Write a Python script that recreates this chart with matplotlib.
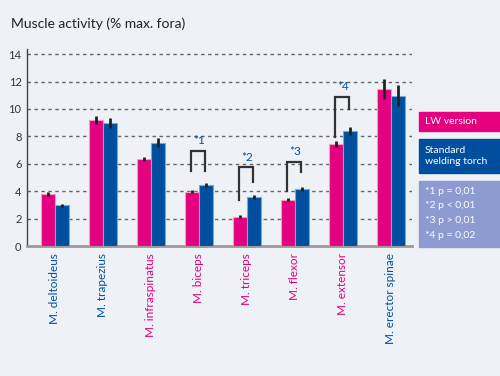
import matplotlib
matplotlib.use("Agg")
import matplotlib.pyplot as plt
import numpy as np

plt.rcParams.update({"font.family": ["Lato", "DejaVu Sans"]})

PINK = "#e4007f"
BLUE = "#004f9e"
LAVENDER = "#8e9bd0"
BG = "#eef2f6"

muscles = ["M. deltoideus", "M. trapezius", "M. infraspinatus", "M. biceps",
           "M. triceps", "M. flexor", "M. extensor", "M. erector spinae"]
label_colors = [BLUE, BLUE, PINK, PINK, PINK, PINK, PINK, BLUE]
lw_vals = [3.8, 9.2, 6.35, 3.96, 2.15, 3.37, 7.45, 11.45]
lw_err = [0.12, 0.28, 0.17, 0.1, 0.1, 0.1, 0.22, 0.7]
std_vals = [2.97, 8.97, 7.55, 4.45, 3.55, 4.16, 8.37, 10.96]
std_err = [0.12, 0.38, 0.33, 0.13, 0.15, 0.15, 0.3, 0.75]

# significance brackets
sig_idx = [3, 4, 5, 6]
sig_top = [6.93, 5.74, 6.15, 10.89]
sig_left_bottom = [5.47, 3.36, 4.01, 7.97]
sig_right_bottom = [5.47, 4.67, 5.42, 9.97]
sig_labels = ["*1", "*2", "*3", "*4"]
p_notes = ["*1 p = 0,01", "*2 p < 0,01", "*3 p > 0,01", "*4 p = 0,02"]

fig = plt.figure(figsize=(5, 3.76), dpi=100, facecolor=BG)
ax = fig.add_axes([0.054, 0.3457, 0.77, 0.525])
ax.set_facecolor(BG)

x = np.arange(len(muscles))
w = 0.29
off = 0.145
ax.bar(x - off, lw_vals, w, color=PINK, edgecolor="#f39ac6", lw=0.8, zorder=3)
ax.bar(x + off, std_vals, w, color=BLUE, edgecolor="#7fa6d2", lw=0.8, zorder=3)
ax.errorbar(x - off, lw_vals, yerr=lw_err, fmt="none", ecolor="#222222",
            elinewidth=2, capsize=0, zorder=4)
ax.errorbar(x + off, std_vals, yerr=std_err, fmt="none", ecolor="#222222",
            elinewidth=2, capsize=0, zorder=4)

for i, top, lb, rb, lab in zip(sig_idx, sig_top, sig_left_bottom,
                               sig_right_bottom, sig_labels):
    ax.plot([i - off - 0.02, i - off - 0.02, i + off - 0.02, i + off - 0.02],
            [lb, top, top, rb], color="#333333", lw=1.6, zorder=5,
            solid_joinstyle="miter")
    ax.text(i, top + 0.35, lab, color=BLUE, fontsize=8.5, ha="center",
            va="bottom")

ax.set_xlim(-0.583, 7.44)
ax.set_ylim(0, 14.4)
ax.set_yticks(range(0, 15, 2))
ax.set_yticklabels([str(v) for v in range(0, 15, 2)], fontsize=8,
                   color="#333333")
for v in range(2, 15, 2):
    ax.axhline(v, color="#666666", lw=1, ls=(0, (2.5, 2.5)), zorder=1)
ax.tick_params(axis="y", length=0, pad=4)
ax.set_xticks(x)
ax.set_xticklabels(muscles, rotation=90, fontsize=8.5, va="top")
for t, c in zip(ax.get_xticklabels(), label_colors):
    t.set_color(c)
ax.tick_params(axis="x", length=0, pad=5)
for s in ["top", "right"]:
    ax.spines[s].set_visible(False)
ax.spines["left"].set_color("#444444")
ax.spines["left"].set_linewidth(1)
ax.spines["bottom"].set_color("#999999")
ax.spines["bottom"].set_linewidth(2)

fig.text(11 / 500, 1 - 24 / 376, "Muscle activity (% max. fora)", fontsize=10,
         color="#222222", va="center")

# legend boxes on the right
def box(y0, y1, color):
    fig.patches.append(plt.Rectangle((419 / 500, 1 - y1 / 376), 81 / 500,
                                     (y1 - y0) / 376, color=color,
                                     transform=fig.transFigure, figure=fig))

box(111.7, 130.7, PINK)
box(139, 173.3, BLUE)
box(181, 247, LAVENDER)
fig.text(425 / 500, 1 - 121 / 376, "LW version", fontsize=7.5, color="white",
         va="center")
fig.text(425 / 500, 1 - 156 / 376, "Standard\nwelding torch", fontsize=7.5,
         color="white", va="center", linespacing=1.4)
for k, note in enumerate(p_notes):
    fig.text(425 / 500, 1 - (191 + 14.8 * k) / 376, note, fontsize=7.5,
             color="white", va="center")

fig.savefig("out.png", dpi=100, facecolor=BG)
